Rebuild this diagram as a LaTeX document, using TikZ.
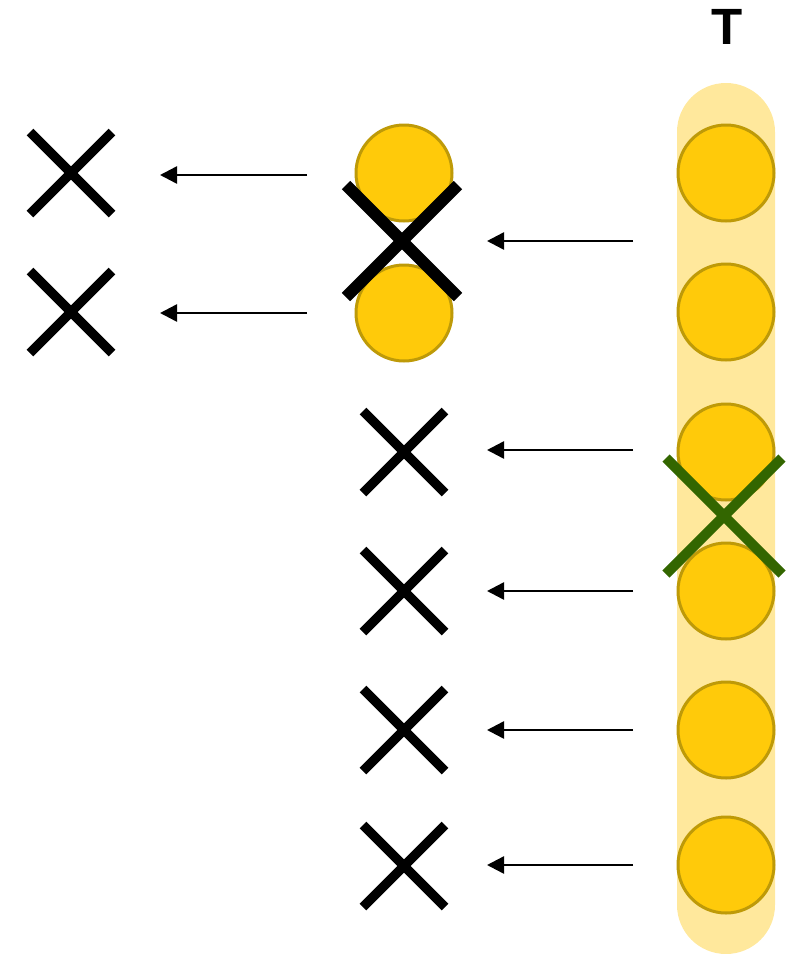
\documentclass[tikz,border=0pt]{standalone}
\usepackage{fontspec}
\setmainfont{Liberation Sans}
\usetikzlibrary{arrows.meta,calc}
\definecolor{coin}{HTML}{FFCA0A}
\definecolor{coinedge}{HTML}{BE9A08}
\definecolor{band}{HTML}{FFE89C}
\definecolor{cross}{HTML}{336600}
\tikzset{
  coin/.style={circle, draw=coinedge, fill=coin, line width=3pt, minimum size=96pt, inner sep=0pt},
  mark spot/.style={inner sep=0pt, minimum size=0pt},
  shift arrow/.style={line width=2.5pt, -{Triangle[length=17pt, width=17pt]}},
  xstroke/.style={line width=9.5pt},
  bigx/.style={line width=12pt},
  greenx/.style={line width=10pt, draw=cross},
}
\begin{document}
\begin{tikzpicture}[x=1pt, y=-1pt]
\useasboundingbox (0,0) rectangle (798,954);

% label above the column
\node[font=\bfseries\fontsize{51}{51}\selectfont, inner sep=0pt] (label) at (727,27) {T};

% pale band behind the right column
\fill[band, rounded corners=49pt] (677,83) rectangle (775,954);

% right column of coins
\foreach \i/\y in {1/173, 2/312, 3/452, 4/591, 5/730, 6/865}
  \node[coin] (r\i) at (726,\y) {};

% green cross over the third and fourth coins
\node[mark spot] (gx) at (724,516) {};
\draw[greenx] ($(gx)+(-58,-58)$) -- ($(gx)+(58,58)$);
\draw[greenx] ($(gx)+(-58,58)$) -- ($(gx)+(58,-58)$);

% middle column: two coins with a big cross between them
\node[coin] (m1) at (404,173) {};
\node[coin] (m2) at (404,313) {};
\node[mark spot] (mx) at (402,241) {};
\draw[bigx] ($(mx)+(-56,-56)$) -- ($(mx)+(56,56)$);
\draw[bigx] ($(mx)+(-56,56)$) -- ($(mx)+(56,-56)$);

% middle column: plain crosses
\foreach \i/\y in {3/452, 4/591, 5/730, 6/866} {
  \node[mark spot] (m\i) at (404,\y) {};
  \draw[xstroke] ($(m\i)+(-41,-41)$) -- ($(m\i)+(41,41)$);
  \draw[xstroke] ($(m\i)+(-41,41)$) -- ($(m\i)+(41,-41)$);
}

% left column: plain crosses
\foreach \i/\y in {1/173, 2/312} {
  \node[mark spot] (l\i) at (71,\y) {};
  \draw[xstroke] ($(l\i)+(-41,-41)$) -- ($(l\i)+(41,41)$);
  \draw[xstroke] ($(l\i)+(-41,41)$) -- ($(l\i)+(41,-41)$);
}

% arrows from right column towards middle column
\foreach \n/\y in {a/241, b/450, c/591, d/730, e/865} {
  \coordinate (s\n) at (633,\y);
  \coordinate (t\n) at (487,\y);
  \draw[shift arrow] (s\n) -- (t\n);
}
% arrows from middle column towards left column
\foreach \n/\y in {f/175, g/313} {
  \coordinate (s\n) at (307,\y);
  \coordinate (t\n) at (160,\y);
  \draw[shift arrow] (s\n) -- (t\n);
}
\end{tikzpicture}
\end{document}
